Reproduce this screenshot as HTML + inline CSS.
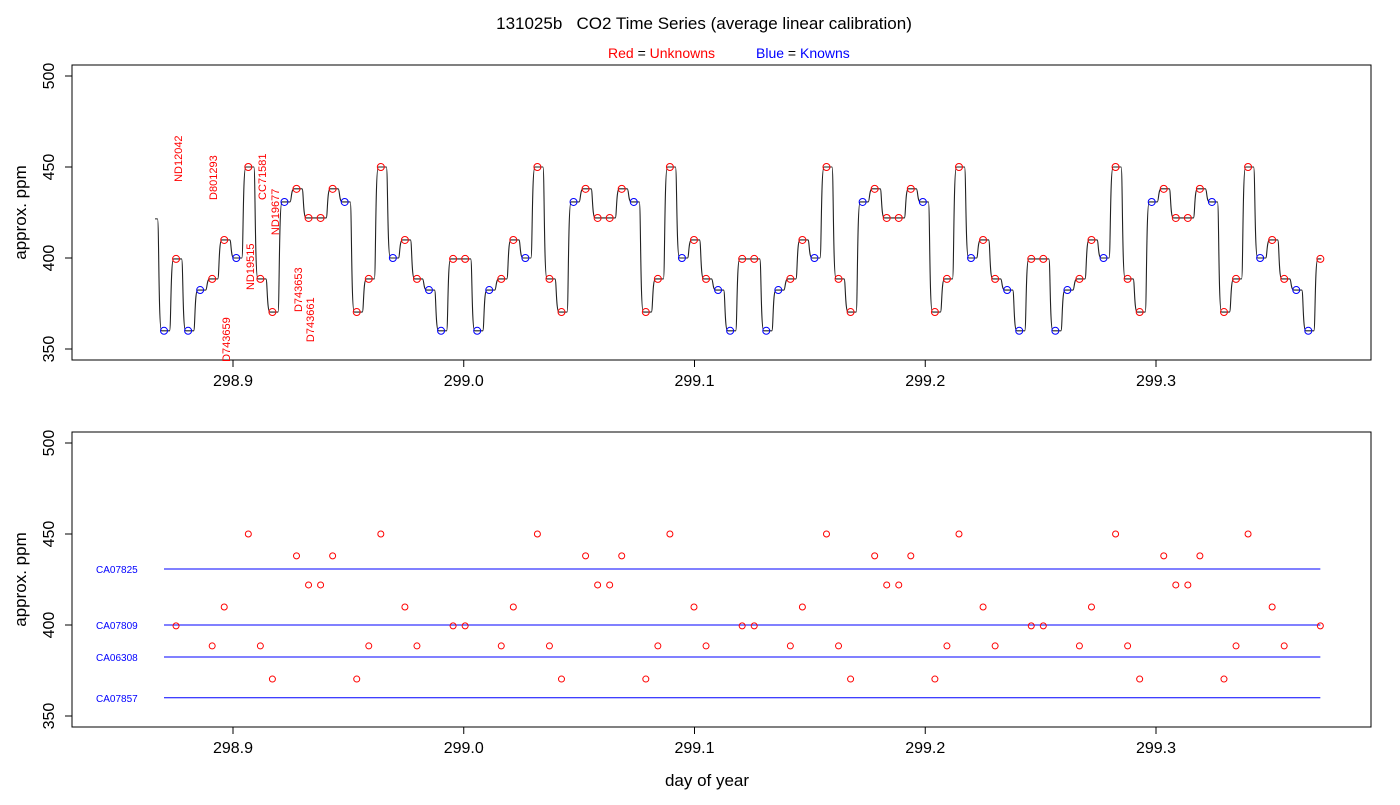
<!DOCTYPE html>
<html><head><meta charset="utf-8"><style>
body{margin:0;background:#fff;}
svg text{font-family:"Liberation Sans",sans-serif;}
</style></head><body>
<svg id="chart" width="1400" height="800" xmlns="http://www.w3.org/2000/svg">
<text x="704" y="29" font-size="17" text-anchor="middle" xml:space="preserve">131025b   CO2 Time Series (average linear calibration)</text>
<g font-size="14">
<text x="608" y="58"><tspan fill="red">Red</tspan> = <tspan fill="red">Unknowns</tspan></text>
<text x="756" y="58"><tspan fill="blue">Blue</tspan> = <tspan fill="blue">Knowns</tspan></text>
</g>
<g id="top"></g>
<g id="bot"></g>
<text x="707" y="786" font-size="17" text-anchor="middle">day of year</text>
</svg>
<script>
// ---- data ----
const sampleStartDay = 298.8701;
const sampleIntervalDay = 0.00522;
const startLineValue = 421.5;
const groupA = [360,399.5,360,382.4,388.5,409.9,400,450,388.5,370.3,430.8,438,422,422,438,430.8,370.3,388.5,450,400,409.9,388.5,382.4,360];
const groupB = [399.5,399.5,360,382.4,388.5,409.9,400,450,388.5,370.3,430.8,438,422,422,438,430.8,370.3,388.5,450,400,409.9,388.5,382.4,360];
const typesA = ['k','u','k','k','u','u','k','u','u','u','k','u','u','u','u','k','u','u','u','k','u','u','k','k'];
const typesB = ['u','u','k','k','u','u','k','u','u','u','k','u','u','u','u','k','u','u','u','k','u','u','k','k'];
const values = groupA.concat(groupB, groupB, groupB, [399.5]);
const types = typesA.concat(typesB, typesB, typesB, ['u']);
const sampleNames = ['ND12042','D801293','CC71581','ND19677','ND19515','D743653','D743661','D743659'];
const sampleNameValue = [441.8,431.9,431.9,412.6,382.4,370.3,353.8,342.9];
const knownNames = ['CA07825','CA07809','CA06308','CA07857'];
const knownValues = [430.8,400,382.4,360];
const xTicks = [298.9,299.0,299.1,299.2,299.3];
const yTicks = [350,400,450,500];
// ---- scales ----
const X0=72,X1=1371;
function xs(d){return 233+(d-298.9)*2307.5;}
function ysTop(v){return 258-(v-400)*1.82;}
function ysBot(v){return 625-(v-400)*1.82;}
const days = values.map((v,i)=>sampleStartDay+i*sampleIntervalDay);
const NS='http://www.w3.org/2000/svg';
function mk(parent,tag,attrs,name){const e=document.createElementNS(NS,tag);for(const k in attrs)e.setAttribute(k,attrs[k]);


parent.appendChild(e);return e;}
function panel(g,top,bottom,ys,label){
  mk(g,'rect',{x:X0,y:top,width:X1-X0,height:bottom-top,fill:'none',stroke:'#000','stroke-width':1},label+'-frame');
  mk(g,'line',{x1:xs(xTicks[0]),x2:xs(xTicks[xTicks.length-1]),y1:bottom,y2:bottom,stroke:'#000'},label+'-x-axis');
  xTicks.forEach(t=>{mk(g,'line',{x1:xs(t),x2:xs(t),y1:bottom,y2:bottom+7,stroke:'#000'},label+'-x-tick');
    const tx=mk(g,'text',{x:xs(t),y:bottom+26,'font-size':16,'text-anchor':'middle'},label+'-x-tick-label');tx.textContent=t.toFixed(1);});
  mk(g,'line',{x1:X0,x2:X0,y1:ys(yTicks[0]),y2:ys(yTicks[yTicks.length-1]),stroke:'#000'},label+'-y-axis');
  yTicks.forEach(t=>{mk(g,'line',{x1:X0-7,x2:X0,y1:ys(t),y2:ys(t),stroke:'#000'},label+'-y-tick');
    const tx=mk(g,'text',{x:54,y:ys(t),'font-size':16,'text-anchor':'middle',transform:`rotate(-90 54 ${ys(t)})`},label+'-y-tick-label');tx.textContent=t;});
  const yt=(top+bottom)/2;
  const tt=mk(g,'text',{x:26,y:yt,'font-size':17,'text-anchor':'middle',transform:`rotate(-90 26 ${yt})`},label+'-y-axis-title');tt.textContent='approx. ppm';
}
const gt=document.getElementById('top'),gb=document.getElementById('bot');
panel(gt,65,360,ysTop,'top');
panel(gb,432,727,ysBot,'bottom');
// top line
let prevY=ysTop(startLineValue);
let d=`M${xs(days[0])-9},${prevY}`;
for(let i=0;i<values.length;i++){
  const x=xs(days[i]),y=ysTop(values[i]);
  const xa=x-6.5;
  d+=` L${xa},${prevY} C${xa+1.5},${prevY} ${xa+1},${y} ${xa+4},${y}`;
  prevY=y;
}
d+=` L${xs(days[values.length-1])+1},${prevY}`;
mk(gt,'path',{d:d,fill:'none',stroke:'#222','stroke-width':1.1},'concentration-line');
values.forEach((v,i)=>{mk(gt,'circle',{cx:xs(days[i]),cy:ysTop(v),r:3.5,fill:'none',stroke:types[i]==='k'?'blue':'red','stroke-width':1},types[i]==='k'?'known-point':'unknown-point');});
const labelX=[178,213,262,275,250,298,310,226];
sampleNames.forEach((n,j)=>{const y=ysTop(sampleNameValue[j]);const x=labelX[j]+4;
  const t=mk(gt,'text',{x:x,y:y,'font-size':11,fill:'red',transform:`rotate(-90 ${x} ${y})`},'sample-label');t.textContent=n;});
// bottom
knownValues.forEach((v,j)=>{mk(gb,'line',{x1:xs(days[0]),x2:xs(days[values.length-1]),y1:ysBot(v),y2:ysBot(v),stroke:'blue','stroke-width':1},'known-reference-line');
  const t=mk(gb,'text',{x:96,y:ysBot(v)+4,'font-size':10,fill:'blue'},'known-label');t.textContent=knownNames[j];});
values.forEach((v,i)=>{if(types[i]==='u')mk(gb,'circle',{cx:xs(days[i]),cy:ysBot(v),r:3,fill:'none',stroke:'red','stroke-width':1},'unknown-point');});
</script>
</body></html>
